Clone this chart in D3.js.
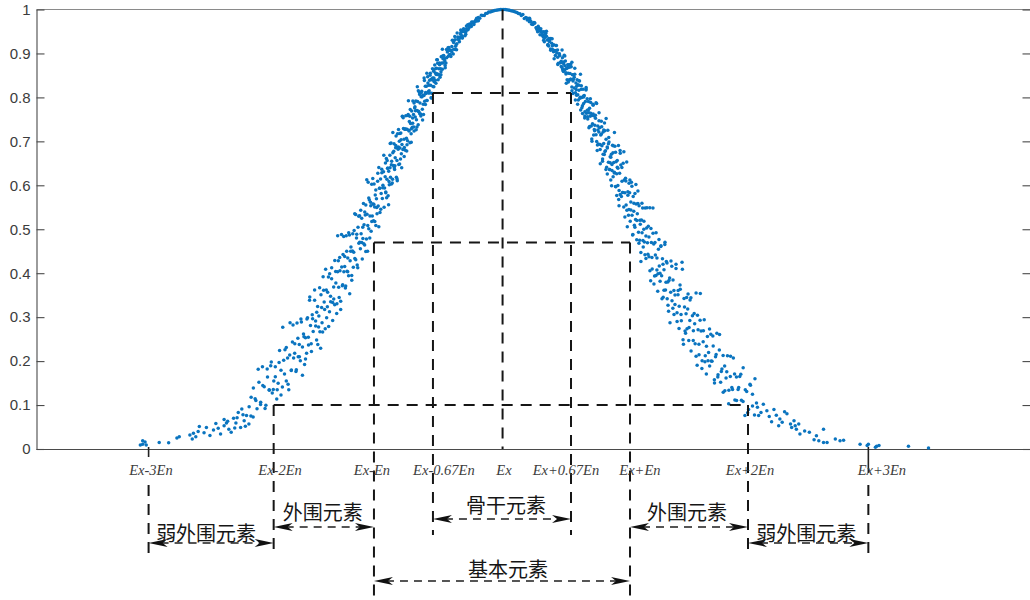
<!DOCTYPE html>
<html><head><meta charset="utf-8">
<script src="https://cdn.jsdelivr.net/npm/d3@7"></script>
<style>html,body{margin:0;padding:0;background:#fff;}svg{display:block;}</style>
</head><body>
<svg id="chart" width="1030" height="600"></svg>
<script>
// ---------------- data ----------------
const yTicks = [0, 0.1, 0.2, 0.3, 0.4, 0.5, 0.6, 0.7, 0.8, 0.9, 1];
const xTickPos = [-3.0, -1.94, -1.09, -0.59, 0, 0.58, 1.08, 2.08, 3.1];
const xTickLabels = ["Ex-3En", "Ex-2En", "Ex-En", "Ex-0.67En", "Ex", "Ex+0.67En", "Ex+En", "Ex+2En", "Ex+3En"];
const xLabelPos = [-2.98, -1.886, -1.107, -0.497, 0.012, 0.537, 1.164, 2.097, 3.215];
const levels = [0.81, 0.47, 0.1];          // membership levels of the guide lines
const regionNames = ["弱外围元素", "外围元素", "骨干元素", "基本元素", "外围元素", "弱外围元素"];
const regionFrom = [0, 1, 3, 2, 6, 7];      // indices into xTickPos
const regionTo   = [1, 2, 5, 6, 7, 8];

// cloud drops [x (in En units, Ex = 0), membership]
const cloudDropsLeft = [
[-0.005,1.000],[-0.018,.9998],[-0.03,.9996],[-0.043,.9991],[-0.055,.9985],[-0.068,.9977],[-0.08,.9968],[-0.093,.9957],[-0.105,.9945],[-0.118,.9941],[-0.13,.9914],[-0.143,.9907],[-0.155,.9863],[-0.168,.9866],[-0.18,.9870],[-0.193,.9803],[-0.205,.9816],[-0.218,.9740],[-0.23,.9743],[-0.243,.9660],[-0.255,.9698],[-0.268,.9640],[-0.28,.9670],[-0.293,.9540],[-0.305,.9560],[-0.318,.9487],[-0.33,.9561],[-0.343,.9356],[-0.355,.9435],[-0.368,.9342],[-0.38,.9376],[-0.393,.9204],[-0.405,.9387],[-0.418,.8988],[-0.43,.9160],[-0.443,.8969],[-0.455,.9133],[-0.468,.9032],[-0.48,.8785],[-0.493,.8881],[-0.262,.9717],[-0.287,.9576],[-0.312,.9439],[-0.337,.9499],[-0.362,.9370],[-0.387,.9221],[-0.412,.9294],[-0.437,.9069],[-0.462,.9074],[-0.487,.8725],[-0.225,.9760],[-0.35,.9515],[-0.45,.8977],[-0.5,.8953],[-0.398,.9163],
[-.505,.888],[-.51,.8638],[-.515,.8784],[-.52,.8924],[-.525,.865],[-.53,.846],[-.535,.8783],[-.54,.865],[-.545,.8514],[-.55,.8776],[-.555,.854],[-.56,.8665],[-.565,.8322],[-.57,.8557],[-.575,.874],[-.58,.8356],[-.585,.8593],[-.59,.825],[-.595,.8398],[-.6,.8094],[-.605,.8415],[-.61,.8277],[-.615,.8504],[-.62,.8101],[-.625,.8277],[-.63,.8131],[-.635,.847],[-.64,.7928],[-.645,.8254],[-.65,.8089],[-.655,.8256],[-.66,.7912],[-.665,.844],[-.67,.761],[-.675,.8052],[-.68,.7733],[-.685,.8138],[-.69,.8013],[-.695,.762],[-.7,.7873],[-.705,.8113],[-.71,.7673],[-.715,.7375],[-.72,.7907],[-.725,.77],[-.73,.7492],[-.735,.7917],[-.74,.7554],[-.745,.7761],[-.75,.7234],[-.755,.7609],[-.76,.792],[-.765,.7318],[-.77,.7689],[-.775,.7172],[-.78,.7408],[-.785,.697],[-.79,.745],[-.795,.7253],[-.8,.761],[-.805,.7011],[-.81,.7278],[-.815,.7073],[-.82,.758],[-.825,.68],[-.83,.7276],[-.835,.7046],[-.84,.7294],[-.845,.6812],[-.85,.7572],[-.855,.6402],[-.86,.7036],[-.865,.6601],[-.87,.7177],[-.875,.7002],[-.88,.6471],[-.885,.6823],[-.89,.7175],[-.895,.6566],[-.9,.6186],[-.905,.6906],[-.91,.6627],[-.915,.6357],[-.92,.6943],[-.925,.6452],[-.93,.674],[-.935,.6053],[-.94,.6548],[-.945,.6964],[-.95,.6181],[-.955,.6682],[-.96,.6012],[-.965,.6318],[-.97,.5762],[-.975,.639],[-.98,.6138],[-.985,.6608],[-.99,.585],[-.995,.6192],[-1,.5939],
[-1.004,.5501],[-1.009,.6311],[-1.014,.5999],[-1.019,.5702],[-1.024,.6365],[-1.029,.5815],[-1.034,.6141],[-1.039,.5381],[-1.044,.5932],[-1.049,.6404],[-1.054,.5531],[-1.059,.6091],[-1.064,.5352],[-1.069,.5692],[-1.074,.5087],[-1.079,.5779],[-1.084,.5505],[-1.089,.6027],[-1.094,.5196],[-1.099,.5574],[-1.104,.5299],[-1.109,.6025],[-1.114,.4954],[-1.119,.5614],[-1.124,.5304],[-1.129,.5665],[-1.134,.5013],[-1.139,.6069],[-1.144,.4501],[-1.149,.5342],[-1.154,.4776],[-1.159,.5554],[-1.164,.5326],[-1.169,.4641],[-1.174,.5104],[-1.179,.5587],[-1.184,.4791],[-1.189,.4325],[-1.194,.525],[-1.199,.4895],[-1.205,.4559],[-1.212,.531],[-1.218,.468],[-1.225,.5045],[-1.232,.4185],[-1.238,.48],[-1.245,.5338],[-1.252,.4337],[-1.258,.4969],[-1.265,.4135],[-1.272,.4505],[-1.278,.3841],[-1.285,.4596],[-1.292,.4283],[-1.298,.4871],[-1.305,.394],[-1.312,.4348],[-1.318,.4047],[-1.325,.4853],[-1.332,.3664],[-1.338,.4381],[-1.345,.4033],[-1.352,.4425],[-1.358,.3715],[-1.365,.4881],[-1.372,.3173],[-1.378,.4058],[-1.385,.3449],[-1.392,.4281],[-1.398,.4031],[-1.404,.3303],[-1.413,.3775],[-1.422,.4287],[-1.431,.3413],[-1.44,.2924],[-1.449,.3871],[-1.458,.3476],[-1.467,.3122],[-1.476,.3912],[-1.485,.3234],[-1.494,.3615],[-1.503,.2735],[-1.512,.3347],[-1.521,.392],[-1.53,.2873],[-1.539,.3512],[-1.548,.2665],[-1.557,.3027],[-1.566,.2377],[-1.575,.311],[-1.584,.2796],[-1.593,.3385],
[-1.605,.2674],[-1.613,.3054],[-1.62,.2218],[-1.628,.281],[-1.636,.3383],[-1.645,.2364],[-1.653,.2989],[-1.661,.2181],[-1.67,.253],[-1.678,.1921],[-1.687,.2618],[-1.696,.2319],[-1.705,.2891],[-1.714,.2006],[-1.723,.2378],[-1.732,.2097],[-1.742,.2866],[-1.751,.1764],[-1.761,.2395],[-1.771,.2072],[-1.781,.2432],[-1.791,.1787],[-1.801,.287],[-1.812,.135],[-1.822,.2068],[-1.833,.155],[-1.844,.2256],[-1.855,.2019],[-1.866,.1413],[-1.878,.179],[-1.89,.224],[-1.902,.1497],[-1.914,.114],[-1.926,.1872],[-1.939,.1545],[-1.952,.1274],[-1.965,.1895],[-1.978,.135],[-1.992,.1637],[-2.006,.0993],[-2.02,.1417],[-2.035,.187],[-2.05,.1065],[-2.065,.152],[-2.081,.0917],[-2.097,.1145],[-2.114,.073],[-2.131,.118],[-2.148,.096],
[-3.07,.009],[-3.05,.011],[-3.03,.016],[-3.05,.019],[-3.02,.009],[-2.91,.015],[-2.83,.014],[-2.76,.025],[-2.74,.028],[-2.65,.032],[-2.62,.036],[-2.58,.040],[-2.57,.051],[-2.60,.028],[-2.63,.023],[-2.51,.049],[-2.41,.047],[-2.39,.034],[-2.36,.053],[-2.34,.059],[-2.32,.045],[-2.30,.038],[-2.36,.067],[-2.28,.070],[-2.26,.059],[-2.24,.083],[-2.22,.049],[-2.19,.064],[-2.17,.076],[-2.15,.057],[-2.45,.043],[-2.48,.031],[-2.53,.037],[-2.27,.048],[-2.21,.091],[-2.18,.052],[-2.25,.071],[-2.33,.063],[-2.43,.058],[-2.20,.078]
];
const cloudDropsLeftB = [
[-.205,.9743],[-.22,.98],[-.235,.9713],[-.25,.9718],[-.265,.9614],[-.28,.9622],[-.295,.9655],[-.31,.9497],[-.325,.9511],[-.34,.9351],[-.355,.9465],[-.37,.9313],[-.385,.9463],[-.4,.9091],[-.415,.9247],[-.43,.9031],[-.445,.908],[-.46,.8937],[-.475,.9088],[-.49,.8835],
[-.5025,.878],[-.5125,.8934],[-.5225,.8515],[-.5325,.8752],[-.5425,.852],[-.5525,.8855],[-.5625,.8521],[-.5725,.8647],[-.5825,.8243],[-.5925,.8443],[-.6025,.7984],[-.6125,.8551],[-.6225,.8151],[-.6325,.8325],[-.6425,.7932],[-.6525,.8113],[-.6625,.8386],[-.6725,.7846],[-.6825,.8017],[-.6925,.7574],[-.7025,.8064],[-.7125,.7687],[-.7225,.8243],[-.7325,.7266],[-.7425,.7789],[-.7525,.7324],[-.7625,.7533],[-.7725,.7286],[-.7825,.7722],[-.7925,.7236],[-.8025,.759],[-.8125,.6782],[-.8225,.728],[-.8325,.6858],[-.8425,.7538],[-.8525,.6928],[-.8625,.7192],[-.8725,.6485],[-.8825,.687],[-.8925,.6102],[-.9025,.712],[-.9125,.6447],[-.9225,.6772],[-.9325,.6139],[-.9425,.6465],[-.9525,.695],[-.9625,.6085],[-.9725,.6387],[-.9825,.5718],[-.9925,.6508],
[-1.0065,.6682],[-1.015,.5943],[-1.0235,.6287],[-1.032,.5455],[-1.0405,.5935],[-1.049,.5055],[-1.0575,.6272],[-1.066,.5494],[-1.0745,.5893],[-1.083,.5179],[-1.0915,.5571],[-1.1,.6156],[-1.1085,.5176],[-1.117,.5535],[-1.1255,.4802],[-1.134,.5709],[-1.1425,.5086],[-1.151,.6125],[-1.1595,.4494],[-1.168,.5391],[-1.1765,.4671],[-1.185,.5048],[-1.1935,.4701],[-1.202,.5435],[-1.2105,.4702],[-1.219,.5295],[-1.2275,.4124],[-1.236,.4885],[-1.2445,.4307],[-1.253,.5353],[-1.2615,.4475],[-1.27,.4896],[-1.2785,.3947],[-1.287,.4502],[-1.2955,.3534],[-1.304,.4922],[-1.3125,.4035],[-1.321,.4498],[-1.3295,.3711],[-1.338,.4152],[-1.3465,.4833],[-1.355,.3738],[-1.3635,.4143],[-1.372,.3364],[-1.3805,.4358],[-1.389,.3682],[-1.3975,.4854],[-1.406,.3085],[-1.4145,.4041],[-1.423,.3284],[-1.4315,.3687],[-1.44,.3332],[-1.4485,.4126],[-1.457,.3352],[-1.4655,.3988],[-1.474,.2787],[-1.4825,.3568],[-1.491,.2985],[-1.4995,.4088],[-1.508,.3173],[-1.5165,.3612],[-1.525,.2663],[-1.5335,.322],[-1.542,.229],[-1.5505,.367],[-1.559,.2778],[-1.5675,.3245],[-1.576,.2482],[-1.5845,.2915],[-1.593,.3615],
[-1.61,.2966],[-1.622,.2392],[-1.634,.3457],[-1.646,.2545],[-1.658,.2959],[-1.67,.2047],[-1.683,.2555],[-1.696,.168],[-1.709,.2959],[-1.722,.2097],[-1.735,.252],[-1.748,.1802],[-1.762,.2178],[-1.776,.2824],[-1.79,.1796],[-1.804,.2139],[-1.818,.1476],[-1.833,.2312],[-1.848,.1705],[-1.863,.277],[-1.878,.1227],[-1.894,.197],[-1.91,.1346],[-1.926,.1644],[-1.943,.1353],[-1.96,.1978],[-1.977,.1336],[-1.995,.1821],[-2.013,.0923],[-2.032,.1443],[-2.051,.1015],[-2.071,.1817],[-2.091,.1101],[-2.112,.1389],[-2.133,.0753]
];
const cloudDropsLeftC = [
[-.306,.9623],[-.318,.9402],[-.33,.9512],[-.342,.9398],[-.354,.9535],[-.366,.9264],[-.378,.9322],[-.39,.9084],[-.402,.9314],[-.414,.9098],[-.426,.9299],[-.438,.8928],[-.45,.9073],[-.462,.9131],[-.474,.8905],[-.486,.8677],[-.498,.8943],[-.51,.9093],[-.522,.8582],[-.534,.8744],[-.546,.8399],[-.558,.8856],[-.57,.8389],[-.582,.844],[-.594,.8653],[-.606,.7992],[-.618,.8388],[-.63,.8102],[-.642,.855],[-.654,.7836],[-.666,.8045],[-.678,.7484],[-.69,.811],[-.702,.7626],[-.714,.8154],[-.726,.7326],[-.738,.7698],[-.75,.7873],[-.762,.7414],[-.774,.6979],[-.786,.7571],[-.798,.7925],[-.81,.6924],[-.822,.7278],[-.834,.6657],[-.846,.7564],[-.858,.672],[-.87,.6849],[-.882,.7268],[-.894,.6142],[-.906,.6855],[-.918,.6397],[-.93,.7199],[-.942,.603],[-.954,.6402],[-.966,.5555],[-.978,.6564],[-.99,.5833]
];
const cloudDropsRight = [
[.009,1.000],[.022,.9998],[.034,.9994],[.047,.9989],[.059,.9983],[.072,.9974],[.084,.9965],[.097,.9953],[.109,.9941],[.122,.9932],[.134,.991],[.147,.9904],[.159,.9865],[.172,.9887],[.184,.9795],[.197,.9818],[.209,.976],[.222,.9786],[.234,.9749],[.247,.9663],[.259,.9678],[.272,.9695],[.284,.9586],[.297,.9491],[.309,.9578],[.322,.9498],[.334,.9414],[.347,.9494],[.359,.9361],[.372,.9389],[.384,.9188],[.397,.9273],[.409,.9343],[.422,.9094],[.434,.92],[.447,.8956],[.459,.9013],[.472,.8775],[.484,.8954],[.497,.8821],[.266,.9702],[.291,.9547],[.316,.9528],[.341,.9412],[.366,.9462],[.391,.917],[.416,.9233],[.441,.9069],[.466,.9077],[.491,.8786],[.229,.98],[.354,.9264],[.454,.9066],[.503,.8691],[.402,.9316],
[.507,.8901],[.512,.861],[.517,.8805],[.522,.8957],[.527,.8631],[.532,.8829],[.537,.8535],[.542,.8659],[.547,.8399],[.552,.8672],[.557,.8551],[.562,.8743],[.567,.8395],[.572,.8543],[.577,.8415],[.582,.87],[.587,.8236],[.592,.8516],[.597,.8371],[.602,.8515],[.607,.8215],[.612,.8665],[.617,.7939],[.622,.8329],[.627,.8048],[.632,.8401],[.637,.8288],[.642,.7941],[.647,.8163],[.652,.8373],[.657,.7983],[.662,.7716],[.667,.8185],[.672,.7998],[.677,.7812],[.682,.8187],[.687,.7864],[.692,.8046],[.697,.7574],[.702,.7908],[.707,.8167],[.712,.7642],[.717,.7972],[.722,.7507],[.727,.7716],[.732,.7309],[.737,.7752],[.742,.7571],[.747,.7883],[.752,.7349],[.757,.7587],[.762,.74],[.767,.7846],[.772,.7142],[.777,.7577],[.782,.7367],[.787,.7592],[.792,.7149],[.797,.786],[.802,.679],[.807,.7349],[.812,.6942],[.817,.7469],[.822,.7312],[.827,.6814],[.832,.7144],[.837,.746],[.842,.6902],[.847,.655],[.852,.721],[.857,.6953],[.862,.6699],[.867,.724],[.872,.6787],[.877,.7049],[.882,.641],[.887,.687],[.892,.725],[.897,.6523],[.902,.6983],[.907,.6357],[.912,.6648],[.917,.612],[.922,.6709],[.927,.6475],[.932,.691],[.937,.6193],[.942,.6519],[.947,.6278],[.952,.689],[.957,.597],[.962,.6534],[.967,.6265],[.972,.6564],[.977,.5997],[.982,.6908],[.987,.5533],[.992,.6276],[.997,.579],[1.002,.646],
[1.007,.5743],[1.012,.6092],[1.017,.5835],[1.022,.6504],[1.027,.5505],[1.032,.6121],[1.037,.5829],[1.042,.6162],[1.047,.5551],[1.052,.6531],[1.057,.5059],[1.062,.5853],[1.067,.5316],[1.072,.6045],[1.077,.5832],[1.082,.518],[1.087,.5619],[1.092,.6069],[1.097,.5318],[1.102,.4868],[1.107,.5748],[1.112,.541],[1.117,.5093],[1.122,.5814],[1.127,.522],[1.132,.5576],[1.137,.4762],[1.142,.5355],[1.147,.5871],[1.152,.493],[1.157,.5536],[1.162,.4747],[1.167,.5111],[1.172,.4472],[1.177,.5209],[1.182,.4919],[1.187,.5481],[1.192,.4598],[1.197,.4999],[1.202,.4712],[1.208,.5483],[1.215,.4337],[1.221,.5031],[1.228,.4692],[1.235,.5067],[1.241,.4374],[1.248,.5491],[1.255,.3826],[1.261,.4699],[1.268,.4097],[1.275,.4907],[1.281,.4663],[1.288,.3937],[1.295,.4412],[1.301,.492],[1.308,.4074],[1.315,.3587],[1.321,.4545],[1.328,.4163],[1.335,.3814],[1.341,.4608],[1.348,.3944],[1.355,.4329],[1.361,.3454],[1.368,.4081],[1.375,.4652],[1.381,.3619],[1.388,.4269],[1.395,.3416],[1.401,.38],[1.407,.3135],[1.416,.3889],[1.425,.3566],[1.434,.4156],[1.443,.3202],[1.452,.3605],[1.461,.3289],[1.47,.4106],[1.479,.2901],[1.488,.3604],[1.497,.3247],[1.506,.3637],[1.515,.2917],[1.524,.4091],[1.533,.2385],[1.542,.3233],[1.551,.2631],[1.56,.3445],[1.569,.3184],[1.578,.2468],[1.587,.2926],[1.596,.3439],
[1.609,.3032],[1.617,.2692],[1.624,.3085],[1.632,.2393],[1.64,.3551],[1.649,.1903],[1.657,.2714],[1.665,.2147],[1.674,.2931],[1.682,.2684],[1.691,.2006],[1.7,.244],[1.709,.2942],[1.718,.2124],[1.727,.1707],[1.736,.2562],[1.746,.2198],[1.755,.189],[1.765,.2613],[1.775,.1994],[1.785,.2341],[1.795,.1574],[1.805,.2101],[1.816,.2632],[1.826,.1692],[1.837,.2251],[1.848,.1518],[1.859,.1821],[1.87,.1289],[1.882,.1887],[1.894,.1617],[1.906,.2121],[1.918,.1338],[1.93,.165],[1.943,.14],[1.956,.2068],[1.969,.1116],[1.982,.1637],[1.996,.1353],[2.01,.165],[2.024,.1109],[2.039,.185],[2.054,.0763],[2.069,.131],[2.085,.0897],[2.101,.1448],[2.118,.1244],[2.135,.0773],[2.152,.1045],
[3.61,.002],[3.44,.006],[3.17,.006],[3.16,.004],[3.19,.008],[3.10,.011],[3.09,.008],[3.03,.011],[2.89,.020],[2.86,.019],[2.82,.023],[2.75,.015],[2.72,.015],[2.68,.019],[2.64,.021],[2.72,.045],[2.60,.038],[2.52,.034],[2.47,.064],[2.48,.053],[2.45,.049],[2.49,.045],[2.51,.057],[2.44,.057],[2.39,.085],[2.41,.080],[2.34,.053],[2.35,.068],[2.32,.077],[2.24,.087],[2.21,.102],[2.17,.076],[2.16,.095],[2.28,.062],[2.26,.074],[2.19,.083],[2.37,.061],[2.30,.090],[2.56,.041],[2.66,.030]
];
const cloudDropsRightB = [
[.212,.9799],[.227,.9721],[.242,.9719],[.257,.9656],[.272,.9693],[.287,.9584],[.302,.9617],[.317,.9426],[.332,.9496],[.347,.9366],[.362,.9491],[.377,.9305],[.392,.934],[.407,.9099],[.422,.9177],[.437,.8882],[.452,.9182],[.467,.8914],[.482,.899],[.497,.8705],
[.5075,.8653],[.5175,.8765],[.5275,.8942],[.5375,.8563],[.5475,.8674],[.5575,.8352],[.5675,.8688],[.5775,.8412],[.5875,.88],[.5975,.8086],[.6075,.846],[.6175,.8107],[.6275,.8254],[.6375,.8061],[.6475,.8379],[.6575,.8003],[.6675,.8263],[.6775,.7633],[.6875,.8011],[.6975,.7674],[.7075,.8193],[.7175,.7709],[.7275,.7909],[.7375,.7338],[.7475,.7639],[.7575,.7005],[.7675,.782],[.7775,.7271],[.7875,.7525],[.7975,.6998],[.8075,.726],[.8175,.7648],[.8275,.6926],[.8375,.717],[.8475,.6597],[.8575,.7257],[.8675,.6771],[.8775,.752],[.8875,.6258],[.8975,.6943],[.9075,.6358],[.9175,.6636],[.9275,.6338],[.9375,.6901],[.9475,.6297],[.9575,.6754],[.9675,.5767],[.9775,.6388],[.9875,.5883],[.9975,.6731],
[1.011,.6405],[1.0195,.5837],[1.028,.6764],[1.0365,.5277],[1.045,.6098],[1.0535,.5431],[1.062,.5773],[1.0705,.5447],[1.079,.6118],[1.0875,.5439],[1.096,.5981],[1.1045,.4881],[1.113,.5593],[1.1215,.5045],[1.13,.6016],[1.1385,.5197],[1.147,.5584],[1.1555,.4679],[1.164,.5205],[1.1725,.4265],[1.181,.5592],[1.1895,.4745],[1.198,.5184],[1.2065,.442],[1.215,.4845],[1.2235,.5488],[1.232,.4434],[1.2405,.4823],[1.249,.4054],[1.2575,.5019],[1.266,.4359],[1.2745,.5485],[1.283,.3757],[1.2915,.47],[1.3,.3948],[1.3085,.4345],[1.317,.3989],[1.3255,.4765],[1.334,.4],[1.3425,.4624],[1.351,.3418],[1.3595,.4203],[1.368,.3614],[1.3765,.4705],[1.385,.3796],[1.3935,.423],[1.402,.3268],[1.4105,.3834],[1.419,.2871],[1.4275,.4276],[1.436,.3374],[1.4445,.3847],[1.453,.306],[1.4615,.3504],[1.47,.4205],[1.4785,.3098],[1.487,.3507],[1.4955,.274],[1.504,.3731],[1.5125,.3059],[1.521,.4251],[1.5295,.2487],[1.538,.3427],[1.5465,.2684],[1.555,.308],[1.5635,.2738],[1.572,.3525],[1.5805,.2762],[1.589,.3393],[1.5975,.2229],
[1.616,.2468],[1.628,.2848],[1.64,.2108],[1.652,.3043],[1.664,.2383],[1.676,.3539],[1.689,.1833],[1.702,.2692],[1.715,.1985],[1.728,.2338],[1.741,.2007],[1.754,.2732],[1.768,.2],[1.782,.2571],[1.796,.1501],[1.81,.2152],[1.824,.1638],[1.839,.2604],[1.854,.1762],[1.869,.2129],[1.884,.1328],[1.9,.1756],[1.916,.1028],[1.932,.2112],[1.949,.1351],[1.966,.1704],[1.983,.1102],[2.001,.14],[2.019,.17],[2.038,.1081],[2.057,.1346],[2.077,.0824],[2.097,.1471],[2.118,.0981],[2.139,.16]
];
const cloudDropsRightC = [
[.312,.9543],[.324,.9563],[.336,.9435],[.348,.9299],[.36,.9433],[.372,.9507],[.384,.9206],[.396,.9289],[.408,.907],[.42,.9333],[.432,.904],[.444,.906],[.456,.9181],[.468,.8747],[.48,.8991],[.492,.8793],[.504,.9079],[.516,.8591],[.528,.8721],[.54,.8321],[.552,.8745],[.564,.8394],[.576,.8756],[.588,.8154],[.6,.8413],[.612,.8528],[.624,.8182],[.636,.7844],[.648,.8278],[.66,.8529],[.672,.7765],[.684,.8025],[.696,.7532],[.708,.8223],[.72,.7557],[.732,.7649],[.744,.7969],[.756,.7055],[.768,.7623],[.78,.7242],[.792,.7878],[.804,.6918],[.816,.7215],[.828,.6492],[.84,.733],[.852,.6708],[.864,.7418],[.876,.6358],[.888,.6848],[.9,.7088],[.912,.6515],[.924,.5991],[.936,.6741],[.948,.7203],[.96,.5968],[.972,.6413],[.984,.5675],[.996,.6791]
];

// ---------------- layout ----------------
const svg = d3.select("#chart");
const plotL = 36.5, plotR = 1030.5, plotT = 9.5, plotB = 449;
const x = d3.scaleLinear().domain([-3.95, 4.47]).range([plotL, 1030]);
const y = d3.scaleLinear().domain([0, 1]).range([plotB, plotT]);
const axisColor = "#4a4a4a";
const txtColor = "#3c3c3c";

// frame: top border
svg.append("line").attr("x1", plotL).attr("x2", plotR).attr("y1", plotT).attr("y2", plotT)
  .attr("stroke", "#8a8a8a").attr("stroke-width", 1.2);

// y axes
const yAxisL = svg.append("g").attr("transform", `translate(${plotL},0)`)
  .call(d3.axisLeft(y).tickValues(yTicks).tickSize(-8).tickSizeOuter(0).tickPadding(6).tickFormat(d3.format("~g")));
const yAxisR = svg.append("g").attr("transform", `translate(${plotR},0)`)
  .call(d3.axisRight(y).tickValues(yTicks).tickSize(-8).tickSizeOuter(0).tickFormat(""));
// x axis line
const xAxis = svg.append("g").attr("transform", `translate(0,${plotB})`)
  .call(d3.axisBottom(x).tickValues([]).tickSizeOuter(0));
xAxis.select(".domain").attr("d", `M${plotL},0.5H${plotR}`);

[yAxisL, yAxisR, xAxis].forEach(g => {
  g.selectAll(".domain").attr("stroke", axisColor).attr("stroke-width", 1.1);
  g.selectAll(".tick line").attr("stroke", axisColor).attr("stroke-width", 1.1);
});
yAxisL.selectAll("text").attr("fill", txtColor)
  .style("font-family", "'Liberation Sans', Arial, Helvetica, sans-serif").style("font-size", "15px");

// cloud drops
const drops = cloudDropsLeft.concat(cloudDropsLeftB, cloudDropsLeftC, cloudDropsRight, cloudDropsRightB, cloudDropsRightC);
svg.append("g").selectAll("circle").data(drops).join("circle")
  .attr("cx", d => x(d[0])).attr("cy", d => y(d[1])).attr("r", 1.75)
  .attr("fill", "#0a74bf");

// ---------------- guide lines ----------------
const guide = svg.append("g").attr("stroke", "#161616").attr("stroke-width", 2)
  .attr("stroke-dasharray", "11,8").attr("fill", "none");
const hPairs = [[3, 5], [2, 6], [1, 7]];
levels.forEach((lv, k) => {
  guide.append("line").attr("x1", x(xTickPos[hPairs[k][0]])).attr("x2", x(xTickPos[hPairs[k][1]]))
    .attr("y1", y(lv)).attr("y2", y(lv));
});
const vTop = [null, 0.1, 0.47, 0.81, 1, 0.81, 0.47, 0.1, null];
const vBottom = [560, 550, 605, 535, plotB, 535, 605, 550, 560];
xTickPos.forEach((p, i) => {
  const top = vTop[i] === null ? 485 : y(vTop[i]);
  guide.append("line").attr("x1", x(p)).attr("x2", x(p)).attr("y1", top).attr("y2", vBottom[i]);
});
[0, 8].forEach(i => {
  svg.append("line").attr("x1", x(xTickPos[i])).attr("x2", x(xTickPos[i]))
    .attr("y1", plotB - 2).attr("y2", i === 0 ? plotB + 8 : plotB + 24)
    .attr("stroke", "#222").attr("stroke-width", 1.6);
});

// x position labels
svg.append("g").selectAll("text").data(xTickLabels).join("text")
  .attr("x", (d, i) => x(xLabelPos[i])).attr("y", 475)
  .attr("text-anchor", "middle").attr("fill", txtColor)
  .style("font-family", "'Liberation Serif', 'Times New Roman', serif")
  .style("font-style", "italic").style("font-size", "14.5px")
  .text(d => d);

// ---------------- region arrows ----------------
const arrowY = [543, 527, 519, 581, 527, 543];
const labelY = [532, 511, 504, 568, 511, 532];
const labelDx = [-5, -1, 4, 6, -2, -2];
const ag = svg.append("g");
function head(tipX, yy, dir) {
  const L = 19, h = 4, n = 5;
  const b = tipX + dir * L;
  return `M${tipX},${yy}L${b},${yy - h}L${b - dir * n},${yy}L${b},${yy + h}Z`;
}
regionNames.forEach((name, k) => {
  const x1 = x(xTickPos[regionFrom[k]]), x2 = x(xTickPos[regionTo[k]]);
  const yy = arrowY[k];
  ag.append("line").attr("x1", x1 + 12).attr("x2", x2 - 12).attr("y1", yy).attr("y2", yy)
    .attr("stroke", "#1e1e1e").attr("stroke-width", 1.5).attr("stroke-dasharray", "8,6");
  ag.append("path").attr("d", head(x1, yy, 1)).attr("fill", "#111");
  ag.append("path").attr("d", head(x2, yy, -1)).attr("fill", "#111");
  ag.append("text").attr("x", (x1 + x2) / 2 + labelDx[k]).attr("y", labelY[k])
    .attr("text-anchor", "middle").attr("dominant-baseline", "central")
    .attr("fill", "#161616")
    .style("font-family", "'Noto Sans CJK SC', 'Noto Sans', sans-serif").style("font-size", "20px")
    .text(name);
});
</script>
</body></html>
